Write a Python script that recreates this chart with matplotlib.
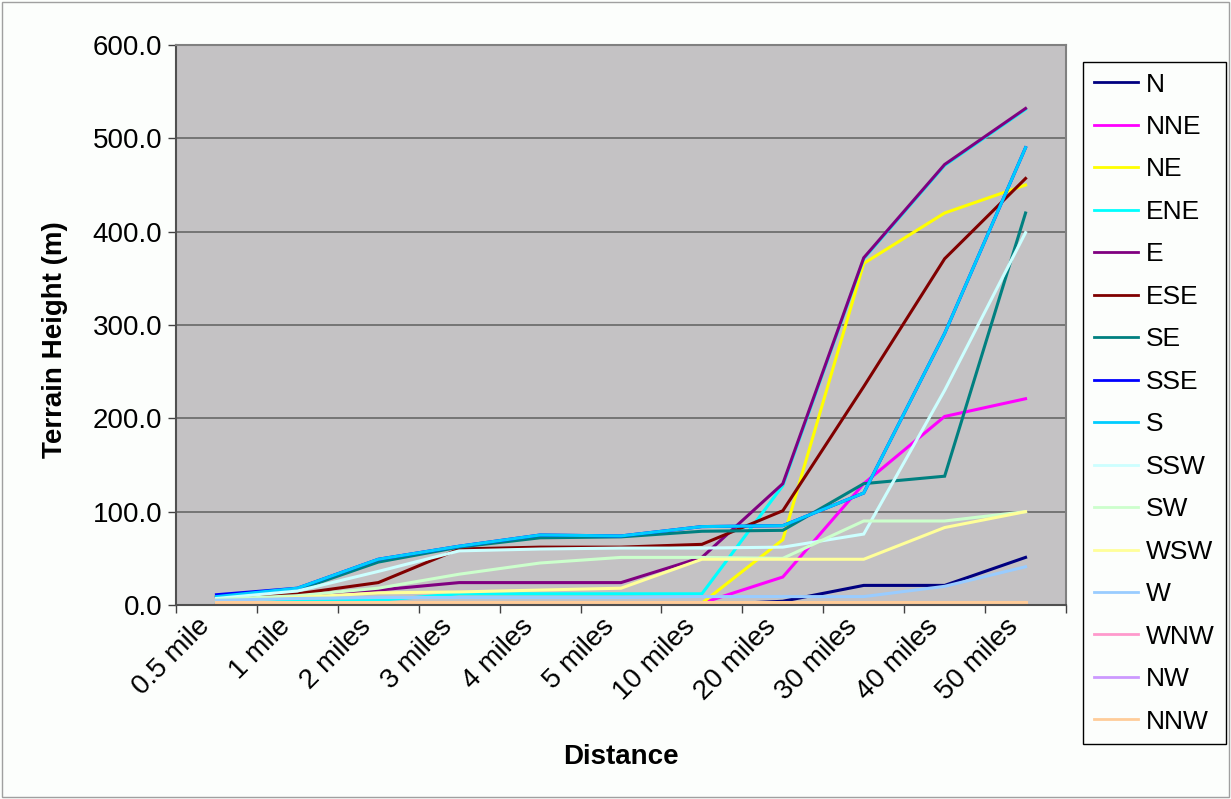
import matplotlib
matplotlib.use("Agg")
import matplotlib.pyplot as plt
from matplotlib.patches import Rectangle
from matplotlib.ticker import FixedLocator, FuncFormatter
from matplotlib.transforms import ScaledTranslation

plt.rcParams['font.family'] = ['Liberation Sans', 'DejaVu Sans']

categories = ["0.5 mile", "1 mile", "2 miles", "3 miles", "4 miles", "5 miles",
              "10 miles", "20 miles", "30 miles", "40 miles", "50 miles"]

N   = [0, 0, 0, 0, 0, 0, 0, 4, 21, 21, 51]
NNE = [0, 0, 0, 0, 0, 0, 2, 30, 130, 202, 221]
NE  = [0, 0, 0, 0, 0, 0, 2, 70, 366, 420, 450]
ENE = [3, 4, 5, 12, 12, 12, 12, 128, 371, 471, 531]
E   = [8, 11, 16, 24, 24, 24, 51, 130, 372, 472, 532]
ESE = [9, 12, 24, 60, 62, 62, 65, 101, 234, 371, 457]
SE  = [8, 16, 46, 62, 72, 73, 79, 80, 130, 138, 420]
SSE = [11, 18, 49, 63, 75, 74, 84, 85, 120, 291, 490]
S   = [9, 18, 49, 63, 75, 74, 84, 85, 120, 291, 490]
SSW = [7, 15, 36, 58, 60, 61, 61, 62, 76, 230, 399]
SW  = [6, 10, 18, 33, 45, 51, 51, 50, 90, 90, 100]
WSW = [4, 8, 13, 14, 16, 18, 49, 49, 49, 83, 100]
W   = [5, 7, 8, 8, 8, 8, 9, 9, 9, 20, 41]
WNW = [1, 1, 1, 1, 1, 1, 1, 1, 1, 1, 1]
NW  = [0, 0, 0, 0, 0, 0, 0, 0, 0, 0, 0]
NNW = [3, 3, 3, 3, 3, 3, 3, 3, 3, 3, 3]

series_names = ["N", "NNE", "NE", "ENE", "E", "ESE", "SE", "SSE", "S", "SSW",
                "SW", "WSW", "W", "WNW", "NW", "NNW"]
series_values = [N, NNE, NE, ENE, E, ESE, SE, SSE, S, SSW, SW, WSW, W, WNW, NW, NNW]
colors = ["#000080", "#FF00FF", "#FFFF00", "#00FFFF", "#800080", "#800000",
          "#008080", "#0000FF", "#00CCFF", "#CCFFFF", "#CCFFCC", "#FFFF99",
          "#99CCFF", "#FF99CC", "#CC99FF", "#FFCC99"]
y_ticks = [0, 100, 200, 300, 400, 500, 600]

W_PX, H_PX = 1231, 799
fig = plt.figure(figsize=(W_PX / 100, H_PX / 100), dpi=100)
fig.patch.set_facecolor("#FCFEFC")

left, right, top, bottom = 176, 1066, 45, 605
ax = fig.add_axes([left / W_PX, 1 - bottom / H_PX, (right - left) / W_PX, (bottom - top) / H_PX])
ax.set_facecolor("#C4C2C4")

x = list(range(len(categories)))
handles = []
for name, vals, c in zip(series_names, series_values, colors):
    h, = ax.plot(x, vals, color=c, lw=2.2, label=name, solid_joinstyle='miter')
    handles.append(h)

ax.set_xlim(-0.5, len(categories) - 0.5)
ax.set_ylim(0, 600)
ax.yaxis.set_major_locator(FixedLocator(y_ticks))
ax.yaxis.set_major_formatter(FuncFormatter(lambda v, p: f"{v:.1f}"))
ax.grid(axis='y', color='#6E6E6E', lw=1.3)
ax.set_axisbelow(True)

ax.set_xticks(x)
ax.set_xticklabels(categories, rotation=45, ha='right', va='top',
                   rotation_mode='anchor', fontsize=20)
ax.tick_params(axis='x', which='major', length=0, pad=6)
offset = ScaledTranslation(-20 / 100, 0 / 100, fig.dpi_scale_trans)
for lbl in ax.get_xticklabels():
    lbl.set_transform(lbl.get_transform() + offset)
ax.set_xticks([i - 0.5 for i in range(len(categories) + 1)], minor=True)
ax.tick_params(axis='x', which='minor', length=6, width=1, color='#404040', direction='out')
ax.tick_params(axis='y', length=6, width=1, color='#404040', direction='out', labelsize=20, pad=4)

for sp in ['left', 'bottom']:
    ax.spines[sp].set_color('#505050')
    ax.spines[sp].set_linewidth(1.5)
for sp in ['right', 'top']:
    ax.spines[sp].set_color('#808080')
    ax.spines[sp].set_linewidth(1.5)

fig.text(55 / W_PX, 1 - 340 / H_PX, "Terrain Height (m)", rotation=90, ha='center', va='center',
         fontsize=20, fontweight='bold')
fig.text(621 / W_PX, 1 - 757 / H_PX, "Distance", ha='center', va='center',
         fontsize=20, fontweight='bold')

leg = fig.legend(handles=handles, loc='upper left',
                 bbox_to_anchor=(1083 / W_PX, 1 - 62 / H_PX),
                 frameon=True, fancybox=False, fontsize=19,
                 handlelength=1.7, handletextpad=0.3, labelspacing=0.7,
                 borderpad=0.4, borderaxespad=0)
leg.get_frame().set_edgecolor('#000000')
leg.get_frame().set_linewidth(1.0)
leg.get_frame().set_facecolor('#FCFEFC')
leg.get_frame().set_alpha(1)
for lh in leg.legend_handles:
    lh.set_linewidth(2.0)

fig.patches.append(Rectangle((0.002, 0.002), 0.996, 0.996, transform=fig.transFigure,
                             fill=False, edgecolor='#A0A0A0', lw=1))

fig.savefig("out.png", dpi=100, facecolor=fig.get_facecolor())
